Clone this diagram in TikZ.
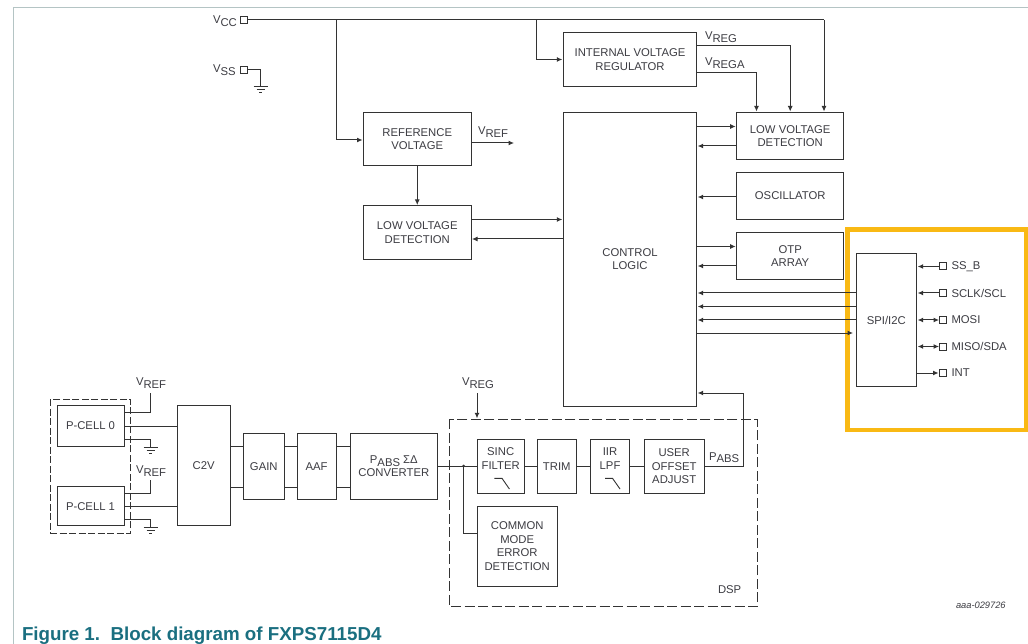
\documentclass[tikz,border=0pt]{standalone}
\usepackage{fontspec}
\setmainfont{Liberation Sans}
\usetikzlibrary{arrows.meta,calc}
\definecolor{ink}{HTML}{333333}
\definecolor{txt}{HTML}{3C3C42}
\definecolor{hl}{HTML}{F9B914}
\definecolor{framec}{HTML}{B4C4C4}
\definecolor{capc}{HTML}{1A6F80}
\newcommand\Vsub[2]{#1\raisebox{-2.6pt}{#2}}
\newcommand\blk[6]{%
  \pgfmathsetmacro\cxx{(#2+#4)/2}\pgfmathsetmacro\cyy{(#3+#5)/2}%
  \pgfmathsetmacro\ww{#4-#2}\pgfmathsetmacro\hh{#5-#3}%
  \node[blockbox,minimum width=\ww pt,minimum height=\hh pt] (#1) at (\cxx,\cyy) {#6};}
\newcommand\gnd[1]{%
  \draw[wire] ($(#1)+(-7,0)$) -- ($(#1)+(7,0)$);
  \draw[wire] ($(#1)+(-4,3)$) -- ($(#1)+(4,3)$);
  \draw[wire] ($(#1)+(-1.5,6)$) -- ($(#1)+(1.5,6)$);}
\tikzset{
  x=1pt,y=-1pt,
  wire/.style={draw=ink,line width=1pt},
  arr/.style={wire,-{Latex[length=5.5pt,width=5pt]},shorten >=1pt},
  biarr/.style={wire,{Latex[length=5.5pt,width=5pt]}-{Latex[length=5.5pt,width=5pt]},shorten >=0.5pt,shorten <=1pt},
  blockbox/.style={draw=ink,line width=1pt,inner sep=0pt,outer sep=0pt,align=center,text=txt,font=\fontsize{11.3}{13.4}\selectfont},
  lab/.style={inner sep=0pt,outer sep=0pt,anchor=west,text=txt,font=\fontsize{11.3}{13.4}\selectfont},
  pinbox/.style={draw=ink,line width=1pt,minimum size=7pt,inner sep=0pt,outer sep=0pt},
  dashbox/.style={draw=ink,line width=1pt,dash pattern=on 10pt off 3.5pt},
}
\begin{document}
\begin{tikzpicture}
\useasboundingbox (0,0) rectangle (1028,644);
\fill[white] (0,0) rectangle (1028,644);
% page frame
\draw[framec,line width=1pt] (13.5,644) -- (13.5,7.5) -- (1028,7.5);
% highlight
\draw[hl,line width=4.5pt] (847.5,229.5) rectangle (1025.8,430);
% blocks
\blk{ref}{363.5}{112.5}{471}{166}{REFERENCE\\VOLTAGE}
\blk{lvdl}{363.5}{206}{471}{259.5}{LOW VOLTAGE\\DETECTION}
\blk{ivr}{563.3}{32.5}{696.7}{86.5}{INTERNAL VOLTAGE\\REGULATOR}
\blk{cl}{563.3}{112.5}{696.7}{406}{CONTROL\\LOGIC}
\blk{lvdr}{736.7}{112.5}{843.7}{159.5}{LOW VOLTAGE\\DETECTION}
\blk{osc}{736.7}{172.5}{843.7}{219.5}{OSCILLATOR}
\blk{otp}{736.7}{232.5}{843.7}{279.5}{OTP\\ARRAY}
\blk{spi}{856}{253.5}{916.7}{386.5}{SPI/I2C}
\blk{pc0}{57}{405.7}{124}{446.3}{P-CELL 0}
\blk{pc1}{57}{486.7}{124}{525.7}{P-CELL 1}
\blk{c2v}{177}{405.7}{230.3}{525.7}{C2V}
\blk{gain}{243.3}{433.3}{284.3}{499.3}{GAIN}
\blk{aaf}{297}{433.3}{336.3}{499.3}{AAF}
\blk{conv}{350.7}{433.3}{437}{499.3}{\Vsub{P}{ABS} ΣΔ\\CONVERTER}
\blk{sinc}{477}{439.7}{524.4}{493.3}{\raisebox{4pt}[0pt][0pt]{\begin{tabular}{@{}c@{}}SINC\\FILTER\end{tabular}}}
\blk{trim}{537}{439.7}{576.5}{493.3}{TRIM}
\blk{iir}{590.4}{439.7}{629.7}{493.3}{\raisebox{4pt}[0pt][0pt]{\begin{tabular}{@{}c@{}}IIR\\LPF\end{tabular}}}
\blk{user}{644}{439.7}{704.4}{493.3}{USER\\OFFSET\\ADJUST}
\blk{cmed}{477}{506}{557.4}{586.3}{COMMON\\MODE\\ERROR\\DETECTION}
% dashed groups
\draw[dashbox] (449.4,419.3) rectangle (757,606.7);
\draw[draw=ink,line width=1pt,dash pattern=on 7pt off 2.5pt] (50.7,399.3) rectangle (130.7,533);
% filter glyphs
\draw[wire,line width=.9pt] (494.4,478.3) -- (502,478.3) -- (509.4,489);
\draw[wire,line width=.9pt] (605,478.3) -- (612.5,478.3) -- (620,489);
% pins and labels
\node[pinbox] (vcc) at (243.5,20) {};
\node[pinbox] (vss) at (243.5,70) {};
\node[lab] (vccl) at (213,21) {\Vsub{V}{CC}};
\node[lab] (vssl) at (213,70) {\Vsub{V}{SS}};
\node[pinbox] (p1) at (943,266.5) {};
\node[pinbox] (p2) at (943,293) {};
\node[pinbox] (p3) at (943,320) {};
\node[pinbox] (p4) at (943,346.5) {};
\node[pinbox] (p5) at (943,373) {};
\node[lab] (p1l) at (951.5,266.5) {SS\_B};
\node[lab] (p2l) at (951.5,293) {SCLK/SCL};
\node[lab] (p3l) at (951.5,320) {MOSI};
\node[lab] (p4l) at (951.5,346.5) {MISO/SDA};
\node[lab] (p5l) at (951.5,373) {INT};
% free ends
\coordinate (vrefend) at (515,143);
\coordinate (tapa) at (336,20);
\coordinate (tapb) at (536.7,20);
\coordinate (vcor) at (824,20);
\coordinate (vsk) at (260.7,70);
\coordinate (vsg) at (260.7,87);
\coordinate (vregtop) at (477,393);
\coordinate (dsptop) at (477,419.3);
\coordinate (tap) at (463.6,466);
\coordinate (fb) at (743,466);
\coordinate (g0) at (150.5,447);
\coordinate (g1) at (150.5,527);
\coordinate (v0) at (150.5,393.3);
\coordinate (v1) at (150.5,480);
% supply wiring
\draw[wire] (vcc.east) -- (vcor);
\draw[arr] (vcor) -- (vcor |- lvdr.north);
\draw[arr] (tapa) |- (ref.west |- 0,140);
\draw[arr] (tapb) |- (ivr.west);
\draw[wire] (vss.east) -- (vsk) -- (vsg);
\gnd{vsg}
% reference
\draw[arr] (ref.east |- 0,143) -- (vrefend);
\node[lab] (vrefl) at (478,132) {\Vsub{V}{REF}};
\draw[arr] (ref.south) -- (lvdl.north);
\draw[arr] (lvdl.east |- 0,219.5) -- (cl.west |- 0,219.5);
\draw[arr] (cl.west |- 0,239) -- (lvdl.east |- 0,239);
% regulator
\draw[arr] (ivr.east |- 0,46) -| (lvdr.north);
\draw[arr] (ivr.east |- 0,73) -| (lvdr.north -| 756.5,0);
\node[lab] (vregl) at (705,37) {\Vsub{V}{REG}};
\node[lab] (vregal) at (705,63) {\Vsub{V}{REGA}};
% control logic neighbours
\draw[arr] (cl.east |- 0,126.5) -- (lvdr.west |- 0,126.5);
\draw[arr] (lvdr.west |- 0,146) -- (cl.east |- 0,146);
\draw[arr] (osc.west |- 0,197) -- (cl.east |- 0,197);
\draw[arr] (cl.east |- 0,246.5) -- (otp.west |- 0,246.5);
\draw[arr] (otp.west |- 0,266) -- (cl.east |- 0,266);
\draw[arr] (spi.west |- 0,293) -- (cl.east |- 0,293);
\draw[arr] (spi.west |- 0,306.5) -- (cl.east |- 0,306.5);
\draw[arr] (spi.west |- 0,320) -- (cl.east |- 0,320);
\draw[arr,shorten >=3pt] (cl.east |- 0,333) -- (spi.west |- 0,333);
% SPI pins
\draw[arr] (p1.west) -- (spi.east |- p1);
\draw[arr] (p2.west) -- (spi.east |- p2);
\draw[biarr] (spi.east |- p3) -- (p3.west);
\draw[biarr] (spi.east |- p4) -- (p4.west);
\draw[arr] (spi.east |- p5) -- (p5.west);
% analog chain
\draw[wire] (pc0.east |- 0,412.3) -- (v0 |- 0,412.3) -- (v0);
\draw[wire] (pc0.east |- 0,426.3) -- (c2v.west |- 0,426.3);
\draw[wire] (pc0.east |- 0,439.7) -- (g0 |- 0,439.7) -- (g0);
\gnd{g0}
\draw[wire] (pc1.east |- 0,493.3) -- (v1 |- 0,493.3) -- (v1);
\draw[wire] (pc1.east |- 0,506) -- (c2v.west |- 0,506);
\draw[wire] (pc1.east |- 0,519.7) -- (g1 |- 0,519.7) -- (g1);
\gnd{g1}
\node[lab] (vr0) at (136,383) {\Vsub{V}{REF}};
\node[lab] (vr1) at (136,471) {\Vsub{V}{REF}};
\draw[wire] (c2v.east |- 0,446.3) -- (gain.west |- 0,446.3);
\draw[wire] (c2v.east |- 0,487) -- (gain.west |- 0,487);
\draw[wire] (gain.east |- 0,446.3) -- (aaf.west |- 0,446.3);
\draw[wire] (gain.east |- 0,487) -- (aaf.west |- 0,487);
\draw[wire] (aaf.east |- 0,446.3) -- (conv.west |- 0,446.3);
\draw[wire] (aaf.east |- 0,487) -- (conv.west |- 0,487);
\draw[wire] (conv.east |- 0,466) -- (sinc.west |- 0,466);
\draw[wire] (tap) |- (cmed.west |- 0,533);
\fill[ink] (tap) circle (1.5);
\draw[wire] (sinc.east |- 0,466) -- (trim.west |- 0,466);
\draw[wire] (trim.east |- 0,466) -- (iir.west |- 0,466);
\draw[wire] (iir.east |- 0,466) -- (user.west |- 0,466);
\draw[arr] (user.east |- 0,466) -- (fb) |- (cl.east |- 0,393);
\draw[arr] (vregtop) -- (dsptop);
\node[lab] (vregd) at (462,383) {\Vsub{V}{REG}};
\node[lab] (pabs) at (709,457.7) {\Vsub{P}{ABS}};
\node[lab] (dsp) at (718,590) {DSP};
\node[lab,font=\itshape\fontsize{9.3}{11}\selectfont] (docid) at (956,605) {aaa-029726};
\node[lab,text=capc,font=\bfseries\fontsize{18.75}{21}\selectfont] (caption) at (22,635.5) {Figure 1.\ \ Block diagram of FXPS7115D4};
\end{tikzpicture}
\end{document}
